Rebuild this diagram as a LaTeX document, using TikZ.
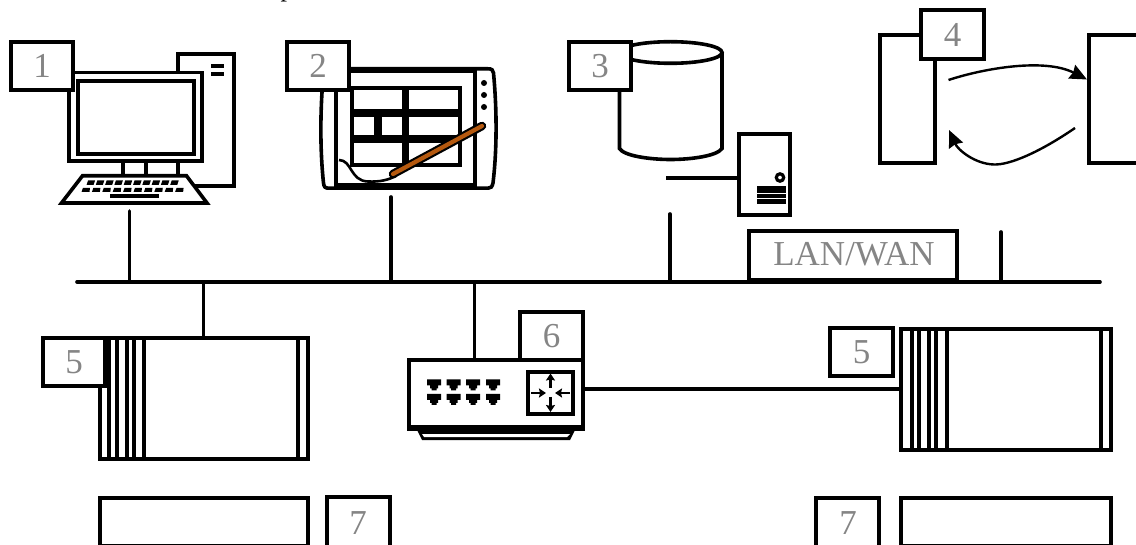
\documentclass[tikz,border=0pt]{standalone}
\usepackage{fontspec}
\setmainfont{Liberation Serif}
\usetikzlibrary{arrows.meta}
\definecolor{lab}{HTML}{858585}
\definecolor{pen}{HTML}{B5590F}
\tikzset{
  x=1pt,y=-1pt,
  ln/.style={draw=black,line width=3.6pt},
  lbl/.style={draw=black,line width=3.6pt,fill=white},
  numtxt/.style={text=lab,inner sep=0pt,font=\fontsize{35}{35}\selectfont},
  arw/.style={draw=black,line width=2.4pt,-{Stealth[inset=1.5pt,length=17pt,width=15pt]}},
  small/.style={draw=black,line width=2.4pt,-{Stealth[inset=1pt,length=7pt,width=9pt]}},
}
\newcommand{\lblbox}[6]{%
  \draw[lbl] (#2,#3) rectangle (#4,#5);
  \node[numtxt] (#1) at ({(#2+#4)/2},{(#3+#5)/2}) {#6};}
\newcommand{\portico}[2]{%
  \fill[black] (#1-7,#2-6) -- (#1+7,#2-6) -- (#1+7,#2) -- (#1+4,#2) -- (#1+4,#2+3) -- (#1+2.5,#2+3) -- (#1+2.5,#2+5) -- (#1-2.5,#2+5) -- (#1-2.5,#2+3) -- (#1-4,#2+3) -- (#1-4,#2) -- (#1-7,#2) -- cycle;}
\begin{document}
\begin{tikzpicture}
\useasboundingbox (0,0) rectangle (1136,545);
\clip (0,0) rectangle (1136,545);
\node[anchor=base,font=\fontsize{26}{26}\selectfont,inner sep=0pt] (ptext) at (287,-3.2) {p};
% connectors
\coordinate (b1) at (129.5,282); \coordinate (t1) at (129.5,211);
\coordinate (b2) at (391,282); \coordinate (t2) at (391,197);
\coordinate (b3) at (670,282); \coordinate (t3) at (670,214);
\coordinate (b4) at (1001,282); \coordinate (t4) at (1001,232);
\coordinate (busL) at (77,282); \coordinate (busR) at (1100,282);
\draw[ln,line cap=round] (busL) -- (busR);
\draw[ln,line cap=round] (t1) -- (b1);
\draw[ln,line cap=round] (t2) -- (b2);
\draw[ln,line cap=round] (t3) -- (b3);
\draw[ln,line cap=round] (t4) -- (b4);
\draw[ln] (203.5,282) -- (203.5,337);
\draw[ln] (474.5,282) -- (474.5,361);
% computer
\draw[ln,fill=white] (178.2,53.8) rectangle (234.2,186.2);
\fill (211,64) rectangle (224,68); \fill (211,72) rectangle (224,76.5);
\draw[ln,fill=white] (68.8,72.5) rectangle (202.2,161.3);
\draw[ln] (77.8,80.8) rectangle (193.8,153.8);
\draw[ln] (123,163) -- (123,176);
\draw[ln] (146,163) -- (146,176);
\draw[ln] (177.7,163) -- (177.7,176);
\draw[ln,fill=white,line join=miter] (82.5,175.8) -- (186.5,175.8) -- (207,203) -- (61.5,203) -- cycle;
\foreach \i in {0,...,9}{
  \fill ({88+\i*9.3},180.5) -- ({95+\i*9.3},180.5) -- ({93.5+\i*9.3},185) -- ({86.5+\i*9.3},185) -- cycle;
  \fill ({83+\i*10.4},187.8) -- ({90+\i*10.4},187.8) -- ({89.5+\i*10.4},192) -- ({81.5+\i*10.4},192) -- cycle;
}
\fill (110,194.5) rectangle (158.5,198.5);
\lblbox{n1}{10.8}{41.8}{73.2}{90.2}{1}
% tablet
\draw[ln,fill=white] (327,68.8) -- (488,68.8) .. controls (492,68.8) and (493,70) .. (493.5,73) .. controls (497,110) and (497,150) .. (493,183) .. controls (492,187) and (491,188.2) .. (488,188.2) -- (329,188.2) .. controls (325,188.2) and (324,187) .. (323.5,183) .. controls (320,150) and (320,110) .. (323.5,73) .. controls (324,70) and (325,68.8) .. (327,68.8) -- cycle;
\fill (335,67.5) rectangle (476,73);
\fill (335,183) rectangle (476,190);
\draw[ln] (336,70) -- (336,188);
\draw[ln] (475,70) -- (475,188);
\foreach \y in {83,95,107} \fill (484,\y) circle (3);
\foreach \a/\b/\c/\d in {351.8/87.8/403.8/110.8, 407.2/87.8/459.8/110.8, 351.8/114.8/376.2/136.8, 379.8/114.8/403.8/136.8, 407.2/114.8/459.8/136.8, 351.8/140.8/403.8/164.8, 407.2/140.8/459.8/164.8}
  \draw[ln] (\a,\b) rectangle (\c,\d);
\draw[line width=2.6pt] (339,160) .. controls (352,160) and (350,181) .. (368,181.5) .. controls (380,182) and (388,180) .. (396,176);
\draw[line width=8.5pt,line cap=round] (393,174) -- (482,126);
\draw[line width=4.2pt,pen,line cap=round] (393,174) -- (482,126);
\lblbox{n2}{286.8}{41.8}{349.2}{90.2}{2}
% storage
\draw[ln,fill=white] (619.5,52) -- (619.5,148.5) .. controls (624,156) and (650,159.5) .. (670.5,159.5) .. controls (691,159.5) and (717,156) .. (722,148.5) -- (722,52);
\draw[ln,fill=white] (670.5,52.5) ellipse (51.5 and 10.8);
\lblbox{n3}{568.8}{41.8}{631.2}{90.2}{3}
\draw[ln] (666,178) -- (738,178);
\draw[ln,fill=white] (738.8,133.8) rectangle (790.2,215.2);
\draw[line width=3.2pt] (780,177.5) circle (3.7);
\fill (757,186) rectangle (786,192.8);
\fill (757,194) rectangle (786,197.8);
\fill (757,199) rectangle (786,204);
% LAN/WAN
\draw[ln] (748.8,282) -- (748.8,230.8) -- (957.2,230.8) -- (957.2,282);
\draw[line width=4.5pt] (747,280.5) -- (959,280.5);
\node[numtxt] (lan) at (854,254) {LAN/WAN};
% process
\draw[ln,fill=white] (879.8,34.8) rectangle (935.2,163.2);
\draw[ln,fill=white] (1088.8,34.8) rectangle (1150,163.2);
\lblbox{n4}{920.8}{9.8}{984.2}{59.2}{4}
\coordinate (a1s) at (948.5,80); \coordinate (a1e) at (1087,79.5);
\coordinate (a2s) at (1075,128); \coordinate (a2e) at (949,130);
\draw[arw] (a1s) .. controls (985,68) and (1045,58) .. (a1e);
\draw[arw] (a2s) .. controls (1040,152) and (1010,165) .. (994,164.5) .. controls (975,164) and (958,150) .. (a2e);
% left rack
\draw[ln,fill=white] (99.8,337.8) rectangle (308.2,459.2);
\foreach \x in {109,116.7,126.7,134,144,298} \draw[ln] (\x,337) -- (\x,460);
\lblbox{n5}{42.8}{337.8}{105.2}{386.2}{5}
% router
\draw[ln] (585,389) -- (900,389);
\draw[ln,fill=white] (408.8,359.8) -- (583.2,359.8) -- (583.2,428) -- (408.8,428) -- cycle;
\fill (407,425) rectangle (585,431.5);
\fill (417,430) -- (422,440) -- (570,440) -- (575,430) -- cycle;
\fill[white] (422,434) -- (424,437) -- (567,437) -- (570,434) -- cycle;
\draw[ln] (527.8,371.8) rectangle (573.2,414.2);
\draw[small] (550.5,388) -- (550.5,373.5);
\draw[small] (550.5,397) -- (550.5,412);
\draw[small] (531,393) -- (546,393);
\draw[small] (570,393) -- (555,393);
\foreach \x in {434,453.5,473,493}{\portico{\x}{385.5}\portico{\x}{400}}
\lblbox{n6}{519.8}{311.8}{583.2}{360.2}{6}
% right rack
\draw[ln,fill=white] (900.8,328.8) rectangle (1111.2,450.2);
\foreach \x in {911.7,918.7,929,936,946.7,1100.7} \draw[ln] (\x,328) -- (\x,451);
\lblbox{n5b}{829.8}{327.8}{893.2}{376.2}{5}
% bottom
\draw[ln,fill=white] (99.8,497.8) rectangle (308.2,545.6);
\draw[ln,fill=white] (900.8,497.8) rectangle (1111.2,545.6);
\draw[ln] (326.8,560) -- (326.8,496.8) -- (390.2,496.8) -- (390.2,560);
\draw[ln] (815.8,560) -- (815.8,497.8) -- (879.2,497.8) -- (879.2,560);
\node[numtxt] (n7) at (358,523) {7};
\node[numtxt] (n7b) at (848,523) {7};
\end{tikzpicture}
\end{document}
